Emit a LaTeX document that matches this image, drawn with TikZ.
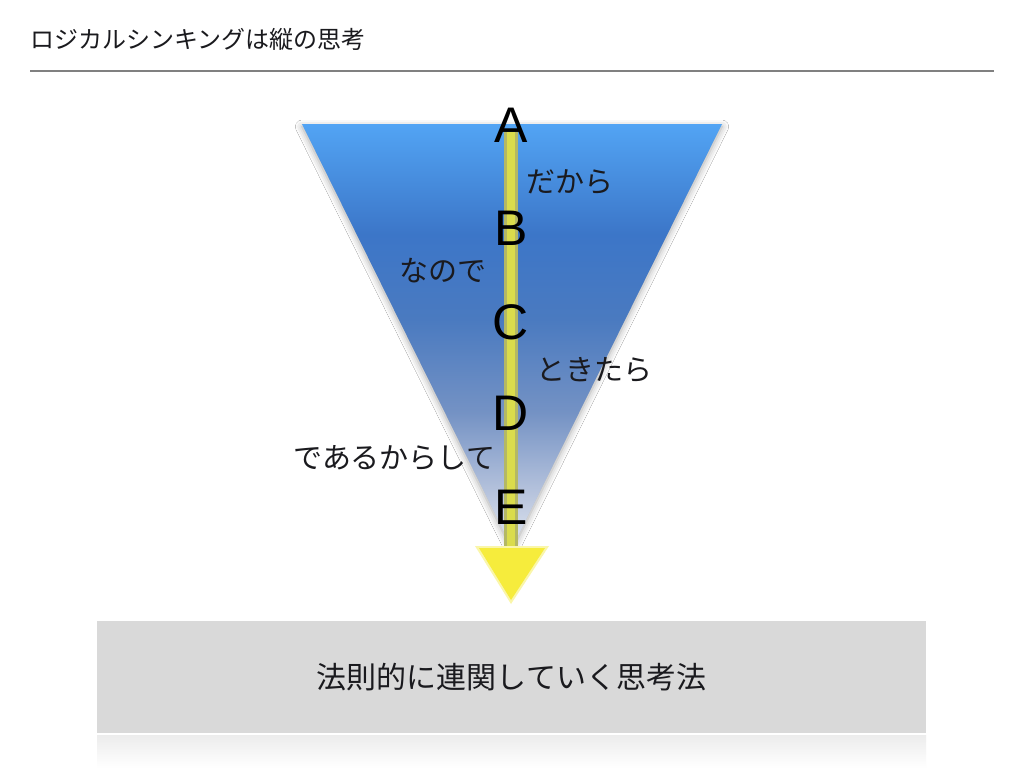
\documentclass[tikz,border=0pt]{standalone}
\usepackage{fontspec}
\setmainfont{Liberation Sans}
\newfontfamily\jp{Noto Sans CJK JP}
\usetikzlibrary{shadows.blur}
\definecolor{triA}{RGB}{226,232,242}
\definecolor{triB}{RGB}{186,198,222}
\definecolor{triC}{RGB}{116,146,196}
\definecolor{triD}{RGB}{74,122,192}
\definecolor{triE}{RGB}{60,118,200}
\definecolor{triF}{RGB}{82,164,244}
\definecolor{rulegray}{RGB}{128,128,128}
\definecolor{boxgray}{RGB}{217,217,217}
\definecolor{reflgray}{RGB}{236,236,236}
\definecolor{lineedge}{RGB}{180,184,100}
\definecolor{linecore}{RGB}{218,220,76}
\definecolor{tipyellow}{RGB}{246,236,60}
\definecolor{tipglow}{RGB}{250,246,170}
\definecolor{textdark}{RGB}{26,26,30}
\pgfdeclareverticalshading{trishade}{100bp}{color(0bp)=(triA); color(25bp)=(triA); color(31bp)=(triB); color(41bp)=(triC); color(52bp)=(triD); color(62bp)=(triE); color(75bp)=(triF); color(100bp)=(triF)}
\tikzset{
  letter/.style={font=\fontsize{37.5}{40}\selectfont, text=black, inner sep=0pt},
  jplabel/.style={font=\jp\fontsize{21.75}{24}\selectfont, text=textdark, inner sep=0pt},
}
\begin{document}
\begin{tikzpicture}[x=0.75pt, y=-0.75pt]
\useasboundingbox (0,0) rectangle (1024,768);
\fill[white] (0,0) rectangle (1024,768);
% title
\node[anchor=west, inner sep=0pt, font=\jp\fontsize{18}{20}\selectfont, text=textdark] (title) at (30,39) {ロジカルシンキングは縦の思考};
\draw[rulegray, line width=1.5pt] (30,71) -- (994,71);
% triangle
\path[shading=trishade, blur shadow={shadow xshift=0pt, shadow yshift=-2pt, shadow blur radius=5pt, shadow opacity=35}] (302,124) -- (722,124) -- (512,548) -- cycle;
% yellow line
\coordinate (ltop) at (511,132);
\coordinate (lbot) at (511,552);
\draw[lineedge, line width=10pt] (ltop) -- (lbot);
\draw[linecore, line width=6.5pt] (ltop) -- (lbot);
% arrow head
\fill[tipglow] (475,546) -- (549,546) -- (511,604) -- cycle;
\fill[tipyellow] (479,548) -- (545,548) -- (511,600) -- cycle;
% letters
\node[letter] (A) at (511,125) {A};
\node[letter] (B) at (511,228) {B};
\node[letter] (C) at (511,322) {C};
\node[letter] (D) at (511,413) {D};
\node[letter] (E) at (511,507) {E};
% labels
\node[jplabel, anchor=west] (l1) at (526,182) {だから};
\node[jplabel, anchor=west] (l2) at (399,271) {なので};
\node[jplabel, anchor=west] (l3) at (536,370) {ときたら};
\node[jplabel, anchor=west] (l4) at (293,458) {であるからして};
% bottom box
\shade[top color=reflgray, bottom color=white] (97,735) rectangle (926,768);
\node[fill=boxgray, minimum width=829*0.75pt, minimum height=112*0.75pt, inner sep=0pt, font=\jp\fontsize{22.5}{25}\selectfont, text=textdark] (box) at (511.5,677) {法則的に連関していく思考法};
\end{tikzpicture}
\end{document}
